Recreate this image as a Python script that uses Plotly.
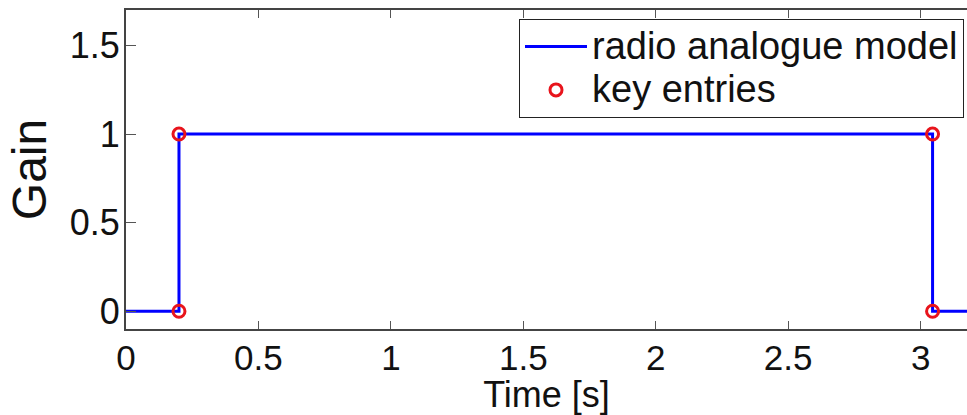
import plotly.graph_objects as go

# Gain of the radio analogue model over time (step profile)
model_time = [0.0, 0.2, 0.2, 3.045, 3.045, 3.3]
model_gain = [0, 0, 1, 1, 0, 0]

# Key entries where the gain switches
key_time = [0.2, 0.2, 3.045, 3.045]
key_gain = [0, 1, 1, 0]

x_ticks = [0, 0.5, 1, 1.5, 2, 2.5, 3]
x_labels = ["0", "0.5", "1", "1.5", "2", "2.5", "3"]
y_ticks = [0, 0.5, 1, 1.5]
y_labels = ["0", "0.5", "1", "1.5"]

FONT = "Liberation Sans, Arial, Helvetica, sans-serif"


def legend_label(text):
    # larger glyphs than the legend's own row spacing
    return f'<span style="font-size:38px">{text}</span>'


fig = go.Figure()
fig.add_trace(go.Scatter(
    x=model_time, y=model_gain, mode="lines",
    name=legend_label("radio analogue model"),
    line=dict(color="#0000ff", width=3),
))
fig.add_trace(go.Scatter(
    x=key_time, y=key_gain, mode="markers",
    name=legend_label("key entries"),
    marker=dict(symbol="circle-open", size=12, color="#e8141c",
                line=dict(width=3, color="#e8141c")),
))

axis_common = dict(
    showline=True, linecolor="#444444", linewidth=1.8,
    ticks="inside", tickcolor="#555555", tickwidth=1,
    showgrid=False, zeroline=False,
)

fig.update_xaxes(
    range=[0, 3.175], tickvals=x_ticks, ticktext=x_labels,
    ticklen=8, mirror="ticks", ticklabelstandoff=-3,
    tickfont=dict(family=FONT, size=35, color="#111111"),
    title=dict(text="Time [s]", font=dict(family=FONT, size=36, color="#111111"),
               standoff=5),
    **axis_common,
)
fig.update_yaxes(
    range=[-0.1, 1.7], tickvals=y_ticks, ticktext=y_labels,
    ticklen=10, ticklabelstandoff=-3,
    tickfont=dict(family=FONT, size=36, color="#111111"),
    title=dict(text="Gain", font=dict(family=FONT, size=48, color="#111111"),
               standoff=8),
    **axis_common,
)

fig.update_layout(
    width=967, height=415,
    margin=dict(l=126, r=0, t=10, b=86),
    paper_bgcolor="white", plot_bgcolor="white",
    legend=dict(
        x=0.4673, y=0.972, xanchor="left", yanchor="top",
        bgcolor="white", bordercolor="#222222", borderwidth=1,
        font=dict(family=FONT, size=31, color="#111111"),
        itemwidth=62, tracegroupgap=0,
    ),
)

fig.write_html("out.html")
